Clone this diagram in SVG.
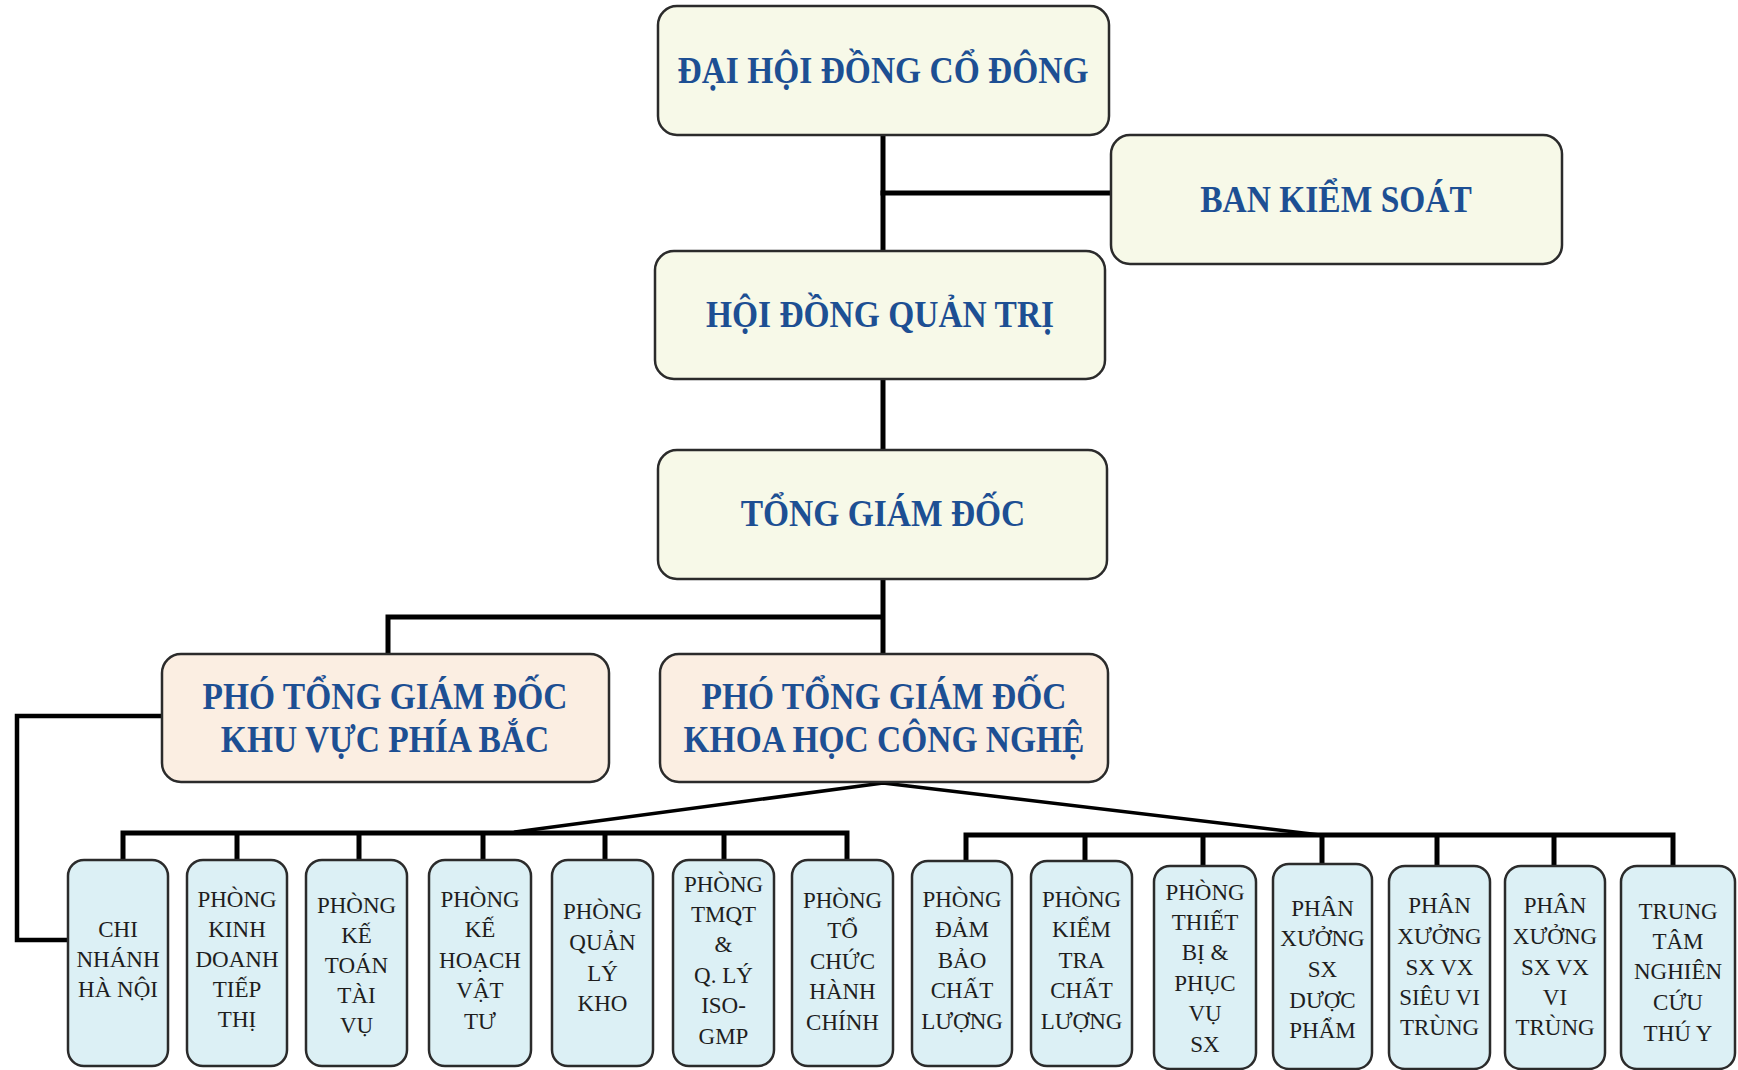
<svg xmlns="http://www.w3.org/2000/svg" width="1738" height="1070" viewBox="0 0 1738 1070">
<style>
.top{fill:#f7f9e8;stroke:#2b2b2b;stroke-width:2.5}
.vp{fill:#fbeee2;stroke:#2b2b2b;stroke-width:2.5}
.dep{fill:#dcf0f5;stroke:#2b2b2b;stroke-width:2.5}
.h{font-family:"Liberation Serif","Times New Roman",serif;font-weight:bold;font-size:33.5px;fill:#1d4f93;text-anchor:middle}
.d{font-family:"Liberation Serif","Times New Roman",serif;font-size:23px;fill:#1e1e1e;text-anchor:middle}
.c{fill:none;stroke:#000;stroke-width:5;stroke-linejoin:miter;stroke-linecap:square}
.cd{fill:none;stroke:#000;stroke-width:3.5;stroke-linecap:round}
</style>
<rect width="1738" height="1070" fill="#ffffff"/>
<g id="connectors">
<path class="c" d="M883 135 V251"/>
<path class="c" d="M883 193 H1111"/>
<path class="c" d="M883 379 V450"/>
<path class="c" d="M883 579 V654 M883 617 H388 V654"/>
<path class="c" style="stroke-width:4.5" d="M162 716 H17 V940 H68"/>
<path class="cd" d="M883 783 L515 832 M883 783 L1320 835"/>
<path class="c" d="M123 860 V833 H847 V860 M237 833 V860 M359 833 V860 M483 833 V860 M605 833 V860 M724 833 V860"/>
<path class="c" d="M966 861 V835 H1673 V866 M1085 835 V861 M1203 835 V866 M1322 835 V864 M1437 835 V866 M1554 835 V866"/>
</g>
<g id="dai-hoi-dong-co-dong">
<rect class="top" x="658" y="6" width="451" height="129" rx="19"/>
<text class="h" transform="translate(883,83) scale(1,1.12)">ĐẠI HỘI ĐỒNG CỔ ĐÔNG</text>
</g>
<g id="ban-kiem-soat">
<rect class="top" x="1111" y="135" width="451" height="129" rx="19"/>
<text class="h" transform="translate(1336,212) scale(1,1.12)">BAN KIỂM SOÁT</text>
</g>
<g id="hoi-dong-quan-tri">
<rect class="top" x="655" y="251" width="450" height="128" rx="19"/>
<text class="h" transform="translate(880,327) scale(1,1.12)">HỘI ĐỒNG QUẢN TRỊ</text>
</g>
<g id="tong-giam-doc">
<rect class="top" x="658" y="450" width="449" height="129" rx="19"/>
<text class="h" transform="translate(883,526) scale(1,1.12)">TỔNG GIÁM ĐỐC</text>
</g>
<g id="pgd-phia-bac">
<rect class="vp" x="162" y="654" width="447" height="128" rx="19"/>
<text class="h" transform="translate(385,709) scale(1,1.12)">PHÓ TỔNG GIÁM ĐỐC</text>
<text class="h" transform="translate(385,752) scale(1,1.12)">KHU VỰC PHÍA BẮC</text>
</g>
<g id="pgd-khcn">
<rect class="vp" x="660" y="654" width="448" height="128" rx="19"/>
<text class="h" transform="translate(884,709) scale(1,1.12)">PHÓ TỔNG GIÁM ĐỐC</text>
<text class="h" transform="translate(884,752) scale(1,1.12)">KHOA HỌC CÔNG NGHỆ</text>
</g>
<g id="chi-nhanh-ha-noi">
<rect class="dep" x="68" y="860" width="100" height="206" rx="16"/>
<text class="d" x="118" y="937">CHI</text>
<text class="d" x="118" y="967">NHÁNH</text>
<text class="d" x="118" y="997">HÀ NỘI</text>
</g>
<g id="phong-kinh-doanh">
<rect class="dep" x="187" y="860" width="100" height="206" rx="16"/>
<text class="d" x="237" y="907">PHÒNG</text>
<text class="d" x="237" y="937">KINH</text>
<text class="d" x="237" y="967">DOANH</text>
<text class="d" x="237" y="997">TIẾP</text>
<text class="d" x="237" y="1027">THỊ</text>
</g>
<g id="phong-ke-toan">
<rect class="dep" x="306" y="860" width="101" height="206" rx="16"/>
<text class="d" x="356.5" y="913">PHÒNG</text>
<text class="d" x="356.5" y="943">KẾ</text>
<text class="d" x="356.5" y="973">TOÁN</text>
<text class="d" x="356.5" y="1003">TÀI</text>
<text class="d" x="356.5" y="1033">VỤ</text>
</g>
<g id="phong-ke-hoach">
<rect class="dep" x="429" y="860" width="102" height="206" rx="16"/>
<text class="d" x="480" y="907">PHÒNG</text>
<text class="d" x="480" y="937">KẾ</text>
<text class="d" x="480" y="968">HOẠCH</text>
<text class="d" x="480" y="998">VẬT</text>
<text class="d" x="480" y="1029">TƯ</text>
</g>
<g id="phong-quan-ly-kho">
<rect class="dep" x="552" y="860" width="101" height="206" rx="16"/>
<text class="d" x="602.5" y="919">PHÒNG</text>
<text class="d" x="602.5" y="950">QUẢN</text>
<text class="d" x="602.5" y="981">LÝ</text>
<text class="d" x="602.5" y="1011">KHO</text>
</g>
<g id="phong-tmqt">
<rect class="dep" x="673" y="860" width="101" height="206" rx="16"/>
<text class="d" x="723.5" y="892">PHÒNG</text>
<text class="d" x="723.5" y="922">TMQT</text>
<text class="d" x="723.5" y="952">&amp;</text>
<text class="d" x="723.5" y="983">Q. LÝ</text>
<text class="d" x="723.5" y="1013">ISO-</text>
<text class="d" x="723.5" y="1044">GMP</text>
</g>
<g id="phong-to-chuc">
<rect class="dep" x="792" y="860" width="101" height="206" rx="16"/>
<text class="d" x="842.5" y="908">PHÒNG</text>
<text class="d" x="842.5" y="938">TỔ</text>
<text class="d" x="842.5" y="969">CHỨC</text>
<text class="d" x="842.5" y="999">HÀNH</text>
<text class="d" x="842.5" y="1030">CHÍNH</text>
</g>
<g id="phong-dam-bao-chat-luong">
<rect class="dep" x="912" y="861" width="100" height="205" rx="16"/>
<text class="d" x="962" y="907">PHÒNG</text>
<text class="d" x="962" y="937">ĐẢM</text>
<text class="d" x="962" y="968">BẢO</text>
<text class="d" x="962" y="998">CHẤT</text>
<text class="d" x="962" y="1029">LƯỢNG</text>
</g>
<g id="phong-kiem-tra-chat-luong">
<rect class="dep" x="1031" y="861" width="101" height="205" rx="16"/>
<text class="d" x="1081.5" y="907">PHÒNG</text>
<text class="d" x="1081.5" y="937">KIỂM</text>
<text class="d" x="1081.5" y="968">TRA</text>
<text class="d" x="1081.5" y="998">CHẤT</text>
<text class="d" x="1081.5" y="1029">LƯỢNG</text>
</g>
<g id="phong-thiet-bi">
<rect class="dep" x="1154" y="866" width="102" height="203" rx="16"/>
<text class="d" x="1205" y="900">PHÒNG</text>
<text class="d" x="1205" y="930">THIẾT</text>
<text class="d" x="1205" y="960">BỊ &amp;</text>
<text class="d" x="1205" y="991">PHỤC</text>
<text class="d" x="1205" y="1021">VỤ</text>
<text class="d" x="1205" y="1052">SX</text>
</g>
<g id="px-sx-duoc-pham">
<rect class="dep" x="1273" y="864" width="99" height="205" rx="16"/>
<text class="d" x="1322.5" y="916">PHÂN</text>
<text class="d" x="1322.5" y="946">XƯỞNG</text>
<text class="d" x="1322.5" y="977">SX</text>
<text class="d" x="1322.5" y="1008">DƯỢC</text>
<text class="d" x="1322.5" y="1038">PHẨM</text>
</g>
<g id="px-sx-vx-sieu-vi-trung">
<rect class="dep" x="1389" y="866" width="101" height="203" rx="16"/>
<text class="d" x="1439.5" y="913">PHÂN</text>
<text class="d" x="1439.5" y="944">XƯỞNG</text>
<text class="d" x="1439.5" y="975">SX VX</text>
<text class="d" x="1439.5" y="1005">SIÊU VI</text>
<text class="d" x="1439.5" y="1035">TRÙNG</text>
</g>
<g id="px-sx-vx-vi-trung">
<rect class="dep" x="1505" y="866" width="100" height="203" rx="16"/>
<text class="d" x="1555" y="913">PHÂN</text>
<text class="d" x="1555" y="944">XƯỞNG</text>
<text class="d" x="1555" y="975">SX VX</text>
<text class="d" x="1555" y="1005">VI</text>
<text class="d" x="1555" y="1035">TRÙNG</text>
</g>
<g id="trung-tam-nghien-cuu-thu-y">
<rect class="dep" x="1621" y="866" width="114" height="203" rx="16"/>
<text class="d" x="1678" y="919">TRUNG</text>
<text class="d" x="1678" y="949">TÂM</text>
<text class="d" x="1678" y="979">NGHIÊN</text>
<text class="d" x="1678" y="1010">CỨU</text>
<text class="d" x="1678" y="1041">THÚ Y</text>
</g>
</svg>
